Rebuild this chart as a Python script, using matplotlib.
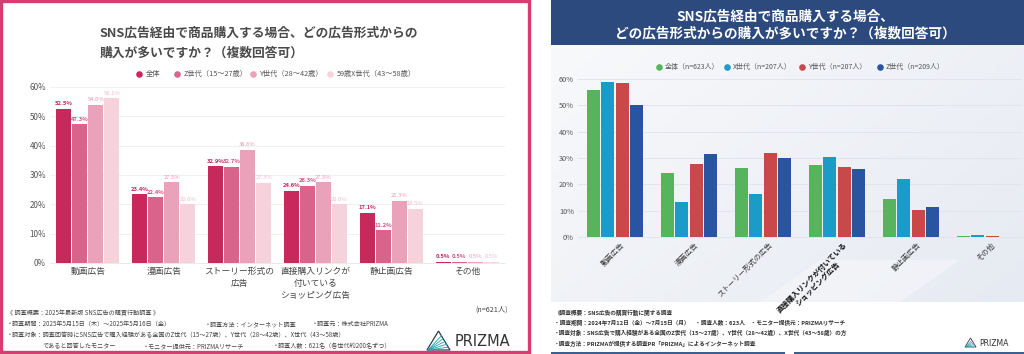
import matplotlib
matplotlib.use('Agg')
import matplotlib.pyplot as plt
import numpy as np
from matplotlib.patches import Rectangle, Polygon
from matplotlib.colors import LinearSegmentedColormap

plt.rcParams['font.family'] = ['Noto Sans CJK JP', 'DejaVu Sans']

W, H = 1024, 354

# ---------------- Left chart data (2025) ----------------
left_title = ['SNS広告経由で商品購入する場合、どの広告形式からの', '購入が多いですか？（複数回答可）']
left_categories = ['動画広告', '漫画広告', 'ストーリー形式の\n広告',
                   '直接購入リンクが\n付いている\nショッピング広告', '静止画広告', 'その他']
left_series = ['全体', 'Z世代（15～27歳）', 'Y世代（28～42歳）', '59歳X世代（43～58歳）']
left_all = [52.5, 23.4, 32.9, 24.6, 17.1, 0.5]
left_z = [47.3, 22.4, 32.7, 26.3, 11.2, 0.5]
left_y = [54.0, 27.5, 38.6, 27.5, 21.3, 0.5]
left_x = [56.1, 20.0, 27.3, 20.0, 18.5, 0.5]
left_yticks = [0, 10, 20, 30, 40, 50, 60]
left_n = '(n=621人)'
left_footer = [
    '《 調査概要：2025年最新版 SNS広告の購買行動調査 》',
    '・調査期間：2025年5月15日（木）～2025年5月16日（金）',
    '・調査対象：調査回答時にSNS広告で購入経験がある全国のZ世代（15～27歳）、Y世代（28～42歳）、X世代（43～58歳）',
    'であると回答したモニター',
]
left_footer_extra = ['・調査方法：インターネット調査', '・調査元：株式会社PRIZMA',
                     '・モニター提供元：PRIZMAリサーチ', '・調査人数：621名（各世代約200名ずつ）']

# ---------------- Right chart data (2024) ----------------
right_title = ['SNS広告経由で商品購入する場合、', 'どの広告形式からの購入が多いですか？（複数回答可）']
right_categories = ['動画広告', '漫画広告', 'ストーリー形式の広告',
                    '直接購入リンクが付いている\nショッピング広告', '静止画広告', 'その他']
right_series = ['全体（n=623人）', 'X世代（n=207人）', 'Y世代（n=207人）', 'Z世代（n=209人）']
right_all = [55.8, 24.3, 26.1, 27.5, 14.6, 0.3]
right_x = [58.7, 13.4, 16.2, 30.3, 22.2, 0.7]
right_y = [58.4, 27.9, 31.8, 26.5, 10.1, 0.3]
right_z = [50.1, 31.5, 30.0, 25.7, 11.5, 0.0]
right_yticks = [0, 10, 20, 30, 40, 50, 60]
right_footer = [
    '《調査概要：SNS広告の購買行動に関する調査',
    '・調査期間：2024年7月12日（金）～7月15日（月）　・調査人数：623人　・モニター提供元：PRIZMAリサーチ',
    '・調査対象：SNS広告で購入経験がある全国のZ世代（15～27歳）、Y世代（28～42歳）、X世代（43～58歳）の方',
    '・調査方法：PRIZMAが提供する調査PR「PRIZMA」によるインターネット調査',
]

fig = plt.figure(figsize=(W / 100, H / 100), dpi=100)
fig.patch.set_facecolor('white')

# background/decoration axes in pixel coordinates
bg = fig.add_axes([0, 0, 1, 1], zorder=0)
bg.axis('off')

# right panel gradient
cmap = LinearSegmentedColormap.from_list('g', ['#f8f9fb', '#e6eaf2'])
gx = np.linspace(0, 1, 200)
gy = np.linspace(0, 1, 100)
G = (gx[None, :] * 0.6 + gy[:, None] * 0.4)
bg.imshow(G, extent=(551, 1024, 302, 45), aspect='auto', cmap=cmap, zorder=0)
bg.add_patch(Polygon([[760, 302], [900, 302], [960, 260], [820, 260]], closed=True,
                     facecolor='white', alpha=0.35, edgecolor='none', zorder=0.5))
# blue header
bg.add_patch(Rectangle((551, 0), 473, 45, facecolor='#2c4a7e', edgecolor='none', zorder=1))
# bottom strips
bg.add_patch(Rectangle((551, 351.5), 234, 3, facecolor='#3d5f8f', edgecolor='none', zorder=1))
bg.add_patch(Rectangle((794, 351.5), 230, 3, facecolor='#3d5f8f', edgecolor='none', zorder=1))
# pink frame
bg.add_patch(Rectangle((1.2, 1.2), 528, 351, facecolor='none', edgecolor='#d63d70', lw=2.4, zorder=5))

bg.set_xlim(0, W)
bg.set_ylim(H, 0)

# ---- left title and legend ----
bg.text(100, 33, left_title[0], fontsize=9.2, fontweight='bold', color='#4a4a4a', va='center', ha='left')
bg.text(100, 53, left_title[1], fontsize=9.2, fontweight='bold', color='#4a4a4a', va='center', ha='left')

colorsL = ['#c8285c', '#d9638a', '#e9a2b9', '#f6d2dd']
labcolL = ['#c8285c', '#d0557e', '#e598b0', '#efbccb']
legL_x = [139, 177, 253, 330]
for xm, lab, c in zip(legL_x, left_series, colorsL):
    bg.scatter([xm], [74], s=14, color=c, zorder=3)
    bg.text(xm + 7, 74, lab, fontsize=5.2, color='#555555', va='center', ha='left')

# ---- right title and legend ----
bg.text(785, 16, right_title[0], fontsize=9.8, fontweight='bold', color='white', va='center', ha='center', zorder=3)
bg.text(785, 33, right_title[1], fontsize=9.8, fontweight='bold', color='white', va='center', ha='center', zorder=3)

colorsR = ['#56b55c', '#1b9bc7', '#c9494b', '#2955a0']
legR_x = [659, 727, 802, 880]
for xm, lab, c in zip(legR_x, right_series, colorsR):
    bg.scatter([xm], [67], s=14, color=c, zorder=3)
    bg.text(xm + 6, 67, lab, fontsize=5.0, color='#555555', va='center', ha='left', zorder=3)

# ---- left axes ----
axL = fig.add_axes([50 / W, 1 - 263 / H, 455 / W, 176 / H], zorder=2)
axL.set_facecolor('none')
xs = np.arange(len(left_categories))
bw, step = 0.198, 0.211
for i, vals in enumerate([left_all, left_z, left_y, left_x]):
    pos = xs + (i - 1.5) * step
    axL.bar(pos, vals, bw, color=colorsL[i], zorder=2)
    for p, v in zip(pos, vals):
        axL.text(p, v + 0.9, f'{v:.1f}%', ha='center', va='bottom', fontsize=4.2,
                 color=labcolL[i], fontweight='bold' if i < 2 else 'normal')
axL.set_xlim(-0.5, len(left_categories) - 0.5)
axL.set_ylim(0, 60)
axL.set_yticks(left_yticks)
axL.set_yticklabels([f'{t}%' for t in left_yticks], fontsize=5.8, color='#555555')
axL.set_xticks(xs)
axL.set_xticklabels(left_categories, fontsize=6.3, color='#444444', linespacing=1.45)
axL.tick_params(axis='both', length=0, pad=3)
axL.yaxis.grid(True, color='#eeeeee', lw=0.6, zorder=0)
axL.set_axisbelow(True)
for s in ['top', 'right', 'left']:
    axL.spines[s].set_visible(False)
axL.spines['bottom'].set_color('#e6e6e6')
axL.spines['bottom'].set_linewidth(0.6)

# ---- right axes ----
axR = fig.add_axes([578 / W, 1 - 237 / H, 444 / W, 158 / H], zorder=2)
axR.set_facecolor('none')
xr = np.arange(len(right_categories))
bwr, stepr = 0.182, 0.196
for i, vals in enumerate([right_all, right_x, right_y, right_z]):
    pos = xr + (i - 1.5) * stepr
    axR.bar(pos, vals, bwr, color=colorsR[i], zorder=2)
axR.set_xlim(-0.5, len(right_categories) - 0.5)
axR.set_ylim(0, 60)
axR.set_yticks(right_yticks)
axR.set_yticklabels([f'{t}%' for t in right_yticks], fontsize=5.3, color='#555555')
axR.set_xticks(xr + 0.08)
tl = axR.set_xticklabels(right_categories, fontsize=5.3, color='#333333', rotation=45,
                         ha='right', rotation_mode='anchor', multialignment='center')
tl[3].set_fontweight('bold')
tl[3].set_color('#111111')
axR.tick_params(axis='both', length=0, pad=3)
axR.yaxis.grid(True, color='#dfe3ea', lw=0.6, zorder=0)
axR.set_axisbelow(True)
for s in ['top', 'right', 'left']:
    axR.spines[s].set_visible(False)
axR.spines['bottom'].set_color('#dfe3ea')
axR.spines['bottom'].set_linewidth(0.6)

# ---- left footer ----
fcol = '#444444'
fs = 4.4
bg.text(492, 310, left_n, fontsize=5.2, color='#444444', ha='center', va='center')
bg.text(7, 313, left_footer[0], fontsize=fs, color=fcol, va='center')
bg.text(7, 324, left_footer[1], fontsize=fs, color=fcol, va='center')
bg.text(205, 324, left_footer_extra[0], fontsize=fs, color=fcol, va='center')
bg.text(312, 324, left_footer_extra[1], fontsize=fs, color=fcol, va='center')
bg.text(7, 335, left_footer[2], fontsize=fs, color=fcol, va='center')
bg.text(43, 346, left_footer[3], fontsize=fs, color=fcol, va='center')
bg.text(143, 346, left_footer_extra[2], fontsize=fs, color=fcol, va='center')
bg.text(273, 346, left_footer_extra[3], fontsize=fs, color=fcol, va='center')

# logo drawing
def logo(ax, x0, y0, w, h, lw):
    ax.add_patch(Polygon([[x0, y0 + h], [x0 + w, y0 + h], [x0 + w * 0.5, y0]], closed=True,
                         facecolor='none', edgecolor='#2f3e4d', lw=lw, zorder=4))
    for k in range(5):
        t = 0.25 + 0.15 * k
        ax.plot([x0 + w * 0.05, x0 + w * 0.5 + w * 0.5 * t], [y0 + h, y0 + h * t],
                color='#25a4b0', lw=lw * 0.7, zorder=4)

logo(bg, 427, 331, 23, 19, 0.9)
bg.text(455, 341, 'PRIZMA', fontsize=10.5, color='#333333', va='center', ha='left',
        family='DejaVu Sans')

# ---- right footer ----
rfs = 4.1
ys = [313, 323, 333, 344]
for yv, line in zip(ys, right_footer):
    bg.text(554, yv, line, fontsize=rfs, color='#333333', va='center', ha='left', fontweight='bold')
logo(bg, 965, 338, 11, 9, 0.6)
bg.text(979, 344, 'PRIZMA', fontsize=5.6, color='#333333', va='center', ha='left',
        family='DejaVu Sans')

bg.set_xlim(0, W)
bg.set_ylim(H, 0)

fig.savefig('out.png', dpi=100)
